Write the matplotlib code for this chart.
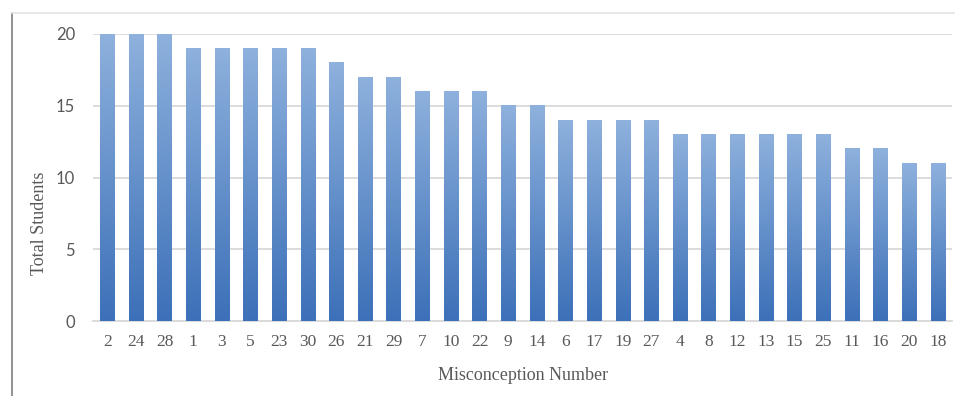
import matplotlib.pyplot as plt
import numpy as np
from matplotlib.lines import Line2D

# misconception numbers, sorted by count as in the source chart
misconceptions = ['2', '24', '28', '1', '3', '5', '23', '30', '26', '21',
                  '29', '7', '10', '22', '9', '14', '6', '17', '19', '27',
                  '4', '8', '12', '13', '15', '25', '11', '16', '20', '18']
total_students = [20, 20, 20, 19, 19, 19, 19, 19, 18, 17,
                  17, 16, 16, 16, 15, 15, 14, 14, 14, 14,
                  13, 13, 13, 13, 13, 13, 12, 12, 11, 11]
y_ticks = [0, 5, 10, 15, 20]

top_rgb = np.array([142, 177, 221]) / 255.0
bottom_rgb = np.array([60, 112, 184]) / 255.0
text_gray = '#595959'
grid_gray = '#d9d9d9'

fig = plt.figure(figsize=(9.55, 3.96), dpi=100)
ax = fig.add_axes([93 / 955, 1 - 321 / 396, (952 - 93) / 955, (321 - 34) / 396])

x = np.arange(len(misconceptions))
bar_w = 0.5

# vertical gradient, light at the top, dark at the bottom
grad = np.linspace(0, 1, 256)[:, None, None]
grad_img = top_rgb * (1 - grad) + bottom_rgb * grad

for xi, v in zip(x, total_students):
    ax.imshow(grad_img, extent=(xi - bar_w / 2, xi + bar_w / 2, 0, v),
              aspect='auto', interpolation='bilinear', zorder=3)

ax.set_xlim(-0.5, len(misconceptions) - 0.5)
ax.set_ylim(0, 20)
ax.set_yticks(y_ticks)
ax.set_xticks(x)
ax.set_xticklabels(misconceptions, family='Liberation Serif', fontsize=12.5, color=text_gray)
ax.set_yticklabels([str(t) for t in y_ticks], family='Lato', fontsize=12, color=text_gray)
ax.tick_params(axis='both', length=0)
ax.tick_params(axis='y', pad=13)
ax.tick_params(axis='x', pad=9)

ax.grid(axis='y', color=grid_gray, linewidth=1.3, zorder=0)
ax.set_axisbelow(True)
for side in ['top', 'right', 'left']:
    ax.spines[side].set_visible(False)
ax.spines['bottom'].set_color(grid_gray)
ax.spines['bottom'].set_linewidth(1.3)

fig.text(523 / 955, 1 - 375 / 396, 'Misconception Number', family='Liberation Serif',
         fontsize=13, color=text_gray, ha='center', va='center')
fig.text(40 / 955, 1 - 223 / 396, 'Total Students', family='Liberation Serif',
         fontsize=13, color=text_gray, ha='center', va='center', rotation=90)

# outer frame pieces visible in the crop
fig.add_artist(Line2D([12 / 955, 12 / 955], [0, 1 - 13 / 396], color='#7f7f7f', linewidth=1.2))
fig.add_artist(Line2D([12 / 955, 1], [1 - 13 / 396, 1 - 13 / 396], color='#e3e3e3', linewidth=1.2))

fig.savefig('out.png', dpi=100)
